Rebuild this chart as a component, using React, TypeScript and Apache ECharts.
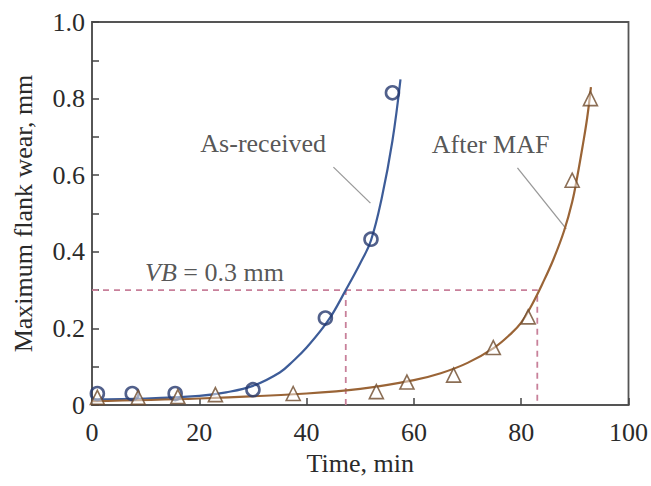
import React, { useEffect, useRef } from "react";
import * as echarts from "echarts";

// Measured points
const asReceivedPts: number[][] = [
  [1, 0.03], [7.5, 0.03], [15.5, 0.03], [30, 0.04], [43.5, 0.227], [52, 0.433], [56, 0.815],
];
const afterMafPts: number[][] = [
  [1, 0.02], [8.6, 0.02], [16, 0.022], [23, 0.027], [37.5, 0.03], [53, 0.035],
  [58.7, 0.06], [67.4, 0.078], [74.8, 0.15], [81.3, 0.23], [89.5, 0.587], [92.9, 0.8],
];
// Fitted curves
const asReceivedCurve: number[][] = [
  [0, 0.015], [10, 0.017], [20, 0.024], [25, 0.033], [30, 0.05], [35, 0.085],
  [37.5, 0.115], [40, 0.15], [44, 0.22], [47.3, 0.3], [50, 0.37], [52, 0.43],
  [54, 0.54], [56, 0.69], [57.5, 0.85],
];
const afterMafCurve: number[][] = [
  [0, 0.01], [20, 0.017], [40, 0.03], [50, 0.042], [60, 0.065], [65, 0.083],
  [70, 0.11], [75, 0.15], [78, 0.185], [80, 0.215], [82, 0.262], [84, 0.318],
  [86, 0.38], [88, 0.455], [89.5, 0.53], [90.5, 0.6], [91.5, 0.68], [92.3, 0.75], [93, 0.83],
];
const vbLevel = 0.3;
const vbTimeAs = 47.3;
const vbTimeMaf = 83;
const leaderAs: number[][] = [[45, 0.621], [51.9, 0.527]];
const leaderMaf: number[][] = [[79.3, 0.619], [88.4, 0.46]];
const labelAs = [31.9, 0.684];
const labelMaf = [74.3, 0.679];
const labelVB = [9.9, 0.345];
const xTicks = [0, 20, 40, 60, 80, 100];

const FONT = "Liberation Serif";
const FS = 26;

export default function App() {
  const ref = useRef<HTMLDivElement>(null);
  useEffect(() => {
    const chart = echarts.init(ref.current!, null, { renderer: "svg" });
    const dashColor = "#c8809a";
    const option: any = {
      animation: false,
      backgroundColor: "#ffffff",
      textStyle: { fontFamily: FONT },
      grid: {
        left: 92, top: 22, right: 21, bottom: 81,
        show: true, borderColor: "#555", borderWidth: 1.8, backgroundColor: "transparent",
      },
      xAxis: {
        type: "value", min: xTicks[0], max: xTicks[xTicks.length - 1], interval: 20,
        name: "Time, min", nameLocation: "middle", nameGap: 45,
        nameTextStyle: { fontFamily: FONT, fontSize: FS, color: "#2a2a2a" },
        axisLine: { show: true, lineStyle: { color: "#555", width: 1.8 } },
        axisTick: { show: true, inside: true, length: 7, lineStyle: { color: "#444", width: 1.5 } },
        axisLabel: { fontFamily: FONT, fontSize: FS, color: "#2a2a2a", margin: 14 },
        splitLine: { show: false },
      },
      yAxis: {
        type: "value", min: 0, max: 1, interval: 0.2,
        name: "Maximum flank wear, mm", nameLocation: "middle", nameGap: 56,
        nameTextStyle: { fontFamily: FONT, fontSize: FS, color: "#2a2a2a" },
        axisLine: { show: true, lineStyle: { color: "#555", width: 1.8 } },
        axisTick: { show: true, inside: true, length: 7, lineStyle: { color: "#444", width: 1.5 } },
        minorTick: { show: true, splitNumber: 2, length: 7, lineStyle: { color: "#444", width: 1.5 } },
        axisLabel: {
          fontFamily: FONT, fontSize: FS, color: "#2a2a2a", margin: 7,
          formatter: (v: number) => (v === 0 ? "0" : v.toFixed(1)),
        },
        splitLine: { show: false },
      },
      series: [
        {
          type: "line", data: [[0, vbLevel], [vbTimeMaf, vbLevel], [vbTimeMaf, 0]],
          symbol: "none", lineStyle: { color: dashColor, width: 1.8, type: [6, 5] }, z: 1,
        },
        {
          type: "line", data: [[vbTimeAs, 0], [vbTimeAs, vbLevel]],
          symbol: "none", lineStyle: { color: dashColor, width: 1.8, type: [6, 5] }, z: 1,
        },
        {
          type: "line", data: leaderAs, symbol: "none",
          lineStyle: { color: "#999", width: 1.3 }, z: 1,
        },
        {
          type: "line", data: leaderMaf, symbol: "none",
          lineStyle: { color: "#999", width: 1.3 }, z: 1,
        },
        {
          type: "line", data: asReceivedCurve, smooth: 0.4, symbol: "none",
          lineStyle: { color: "#3d5c98", width: 2.2 }, z: 2,
        },
        {
          type: "line", data: afterMafCurve, smooth: 0.4, symbol: "none",
          lineStyle: { color: "#9a6436", width: 2.2 }, z: 2,
        },
        {
          type: "scatter", data: asReceivedPts, symbol: "circle", symbolSize: 13,
          itemStyle: { color: "rgba(255,255,255,0)", borderColor: "#25386e", borderWidth: 2.6 }, z: 3,
        },
        {
          type: "scatter", data: afterMafPts, symbol: "triangle", symbolSize: 14,
          itemStyle: { color: "rgba(255,255,255,0.6)", borderColor: "#6e4a2a", borderWidth: 1.6 }, z: 3,
        },
        {
          type: "scatter", symbolSize: 0, z: 4,
          data: [
            { value: labelAs, name: "As-received" },
            { value: labelMaf, name: "After MAF" },
          ],
          label: {
            show: true, position: "inside", formatter: "{b}",
            fontFamily: FONT, fontSize: FS, color: "#2a2a2a",
          },
        },
        {
          type: "scatter", symbolSize: 0, z: 4,
          data: [{ value: labelVB, name: "VB" }],
          label: {
            show: true, position: "right", distance: 0,
            formatter: "{i|VB} = 0.3 mm",
            fontFamily: FONT, fontSize: FS, color: "#2a2a2a",
            rich: { i: { fontFamily: FONT, fontSize: FS, fontStyle: "italic", color: "#2a2a2a" } },
          },
        },
      ],
    };
    chart.setOption(option);
    return () => chart.dispose();
  }, []);
  return (
    <div
      ref={ref}
      style={{ position: "fixed", left: 0, top: 0, width: 651, height: 486, background: "#fff" }}
    />
  );
}
